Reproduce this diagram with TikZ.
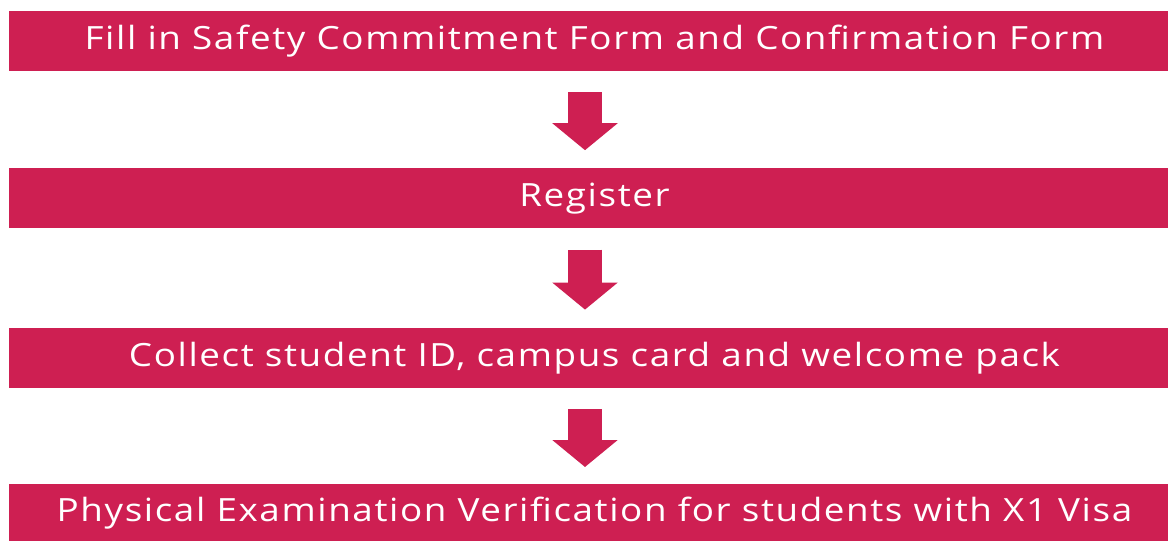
\documentclass[tikz,border=0pt]{standalone}
\usepackage{fontspec}
\setmainfont{Open Sans}[FakeStretch=1.15, LetterSpace=5]
\usetikzlibrary{arrows.meta, positioning}
\definecolor{regred}{RGB}{206,31,82}

\begin{document}
\begin{tikzpicture}[
    x=1pt, y=1pt,
    stepbox/.style={rectangle, fill=regred, minimum width=1171pt, minimum height=60pt, inner sep=0pt, text=white, font=\fontsize{32}{38}\selectfont},
    flow/.style={regred, line width=34pt, line cap=butt, -{Triangle[width=64pt, length=27pt]}}
]
    \useasboundingbox (0,0) rectangle (1168,-541);

    \node[stepbox] (Fill)    at (594.5,-41)  {Fill in Safety Commitment Form and Confirmation Form};
    \node[stepbox] (Reg)     [below=97pt of Fill]  {Register};
    \node[stepbox] (Collect) [below=99pt of Reg]   {Collect student ID, campus card and welcome pack};
    \node[stepbox, minimum height=57pt] (Exam) [below=96pt of Collect] {Physical Examination Verification for students with X1 Visa};

    \draw[flow, shorten <=21pt, shorten >=18pt] ([xshift=-9.5pt]Fill.south) -- ([xshift=-9.5pt]Reg.north);
    \draw[flow, shorten <=21pt, shorten >=18pt] ([xshift=-9.5pt]Reg.south) -- ([xshift=-9.5pt]Collect.north);
    \draw[flow, shorten <=21pt, shorten >=17pt] ([xshift=-9.5pt]Collect.south) -- ([xshift=-9.5pt]Exam.north);

\end{tikzpicture}
\end{document}
